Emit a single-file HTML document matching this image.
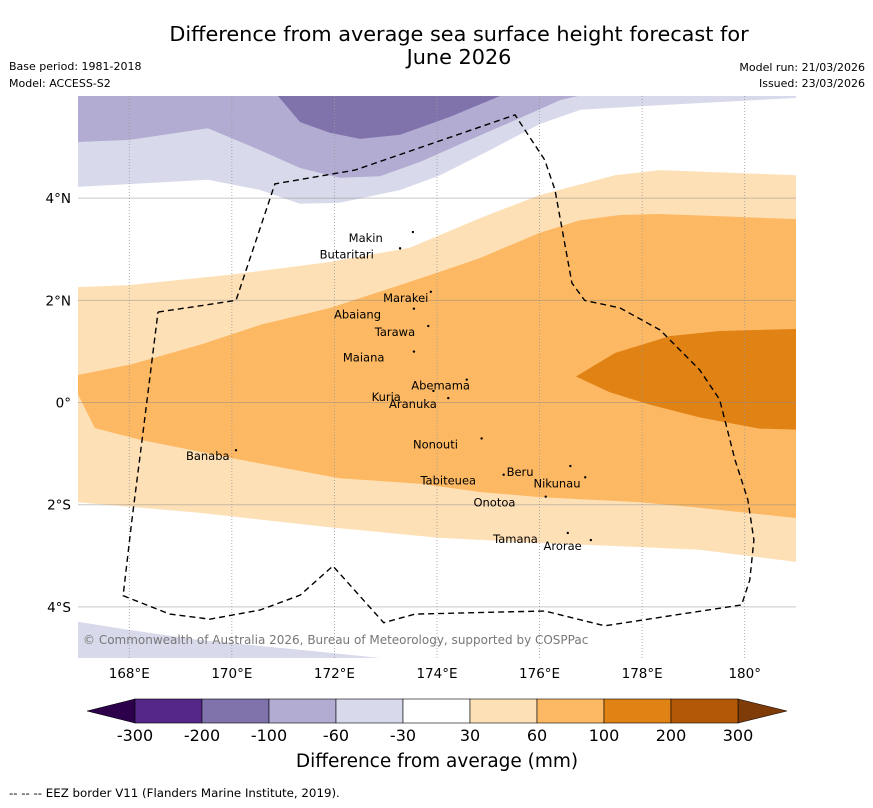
<!DOCTYPE html>
<html><head><meta charset="utf-8">
<style>
body{margin:0;background:#fff;width:873px;height:804px;overflow:hidden;font-family:"DejaVu Sans","Liberation Sans",sans-serif;}
svg text{font-family:"DejaVu Sans","Liberation Sans",sans-serif;}
</style></head>
<body>
<svg id="chart" width="873" height="804" xmlns="http://www.w3.org/2000/svg">
<text x="459" y="41" font-size="20.8" text-anchor="middle">Difference from average sea surface height forecast for</text>
<text x="459" y="64" font-size="20.8" text-anchor="middle">June 2026</text>
<text x="9" y="70" font-size="11">Base period: 1981-2018</text>
<text x="9" y="87" font-size="11">Model: ACCESS-S2</text>
<text x="865" y="71" font-size="11" text-anchor="end">Model run: 21/03/2026</text>
<text x="865" y="87" font-size="11" text-anchor="end">Issued: 23/03/2026</text>
<g id="map"></g>
<g id="cbar"></g>
<text x="437" y="767" font-size="18.5" text-anchor="middle">Difference from average (mm)</text>
<text x="9" y="797" font-size="11.8">--  --  -- EEZ border V11 (Flanders Marine Institute, 2019).</text>
</svg>
<script>
// ---- data ----
const lonTicks = [168,170,172,174,176,178,180];
const lonTickLabels = ["168°E","170°E","172°E","174°E","176°E","178°E","180°"];
const latTicks = [4,2,0,-2,-4];
const latTickLabels = ["4°N","2°N","0°","2°S","4°S"];
const levelLabels = ["-300","-200","-100","-60","-30","30","60","100","200","300"];
const levelColors = ["#542788","#8073ac","#b2abd2","#d8daeb","#ffffff","#fee0b6","#fdb863","#e08214","#b35806"];
const lowExtendColor = "#2d004b";
const highExtendColor = "#7f3b08";
const contourLightPurpleTop = [[167,6],[181,6],[181,5.96],[177.96,5.8],[176.8,5.73],[176.0,5.45],[175.03,4.94],[174.06,4.45],[173.28,4.16],[172.1,3.91],[171.33,3.89],[170.55,4.16],[169.53,4.36],[167,4.22]];
const contourMidPurple = [[167,6],[176.75,6],[176.4,5.92],[175.62,5.57],[174.64,5.14],[173.67,4.71],[172.89,4.43],[172.1,4.4],[171.33,4.59],[170.55,4.94],[169.53,5.37],[168.01,5.14],[167,5.1]];
const contourDarkPurple = [[170.9,6],[171.33,5.49],[171.91,5.28],[172.5,5.16],[173.28,5.24],[174.25,5.59],[175.23,6]];
const contourLightPurpleBottom = [[167,-4.29],[168.0,-4.45],[169.38,-4.65],[171.33,-4.84],[172.89,-5],[167,-5]];
const contourLightOrange = [[167,2.26],[168.01,2.3],[169.96,2.5],[171.91,2.75],[173.47,3.03],[174.84,3.61],[176.0,4.06],[177.47,4.45],[178.35,4.55],[181,4.45],[181,-3.12],[179.12,-2.88],[177.96,-2.83],[176,-2.75],[174.06,-2.65],[172.0,-2.45],[169.38,-2.16],[167,-1.95]];
const contourMidOrange = [[167,0.54],[168.01,0.74],[169.38,1.13],[170.55,1.52],[171.91,1.85],[173.28,2.3],[174.06,2.56],[174.84,2.83],[176,3.32],[176.79,3.57],[177.57,3.67],[178.35,3.69],[181,3.59],[181,-2.26],[179.12,-2.06],[177.96,-1.95],[176,-1.85],[174.84,-1.75],[173.67,-1.59],[172.1,-1.48],[170.16,-1.12],[168.21,-0.73],[167.33,-0.5],[167,0.16]];
const contourDarkOrange = [[176.71,0.51],[177.47,0.97],[178.54,1.3],[179.51,1.4],[181,1.44],[181,-0.53],[180.29,-0.51],[179.12,-0.29],[178.15,-0.04],[177.37,0.2]];
const eezBorder = [[168.56,1.77],[170.08,2.0],[170.84,4.28],[172.4,4.55],[175.52,5.63],[176.1,4.75],[176.3,4.16],[176.63,2.34],[176.88,2.0],[177.57,1.85],[178.35,1.42],[179.12,0.64],[179.51,0.06],[179.81,-1.12],[180.06,-1.9],[180.18,-2.69],[180.1,-3.47],[179.94,-3.96],[177.27,-4.37],[176.1,-4.08],[173.57,-4.14],[172.96,-4.31],[171.97,-3.2],[171.33,-3.77],[170.55,-4.06],[169.57,-4.24],[168.79,-4.14],[167.88,-3.78],[168.05,-2.3],[168.25,-0.73],[168.56,1.77]];
const islandNames = ["Makin","Butaritari","Marakei","Abaiang","Tarawa","Maiana","Abemama","Kuria","Aranuka","Nonouti","Banaba","Tabiteuea","Beru","Nikunau","Onotoa","Tamana","Arorae"];
const islandLon = [172.61,172.24,173.39,172.45,173.18,172.57,174.07,173.01,173.53,173.97,169.53,174.22,175.62,176.34,175.12,175.53,176.45];
const islandLat = [3.22,2.9,2.05,1.72,1.38,0.88,0.33,0.11,-0.03,-0.82,-1.05,-1.53,-1.36,-1.58,-1.96,-2.67,-2.81];
const markerLon = [173.53,173.28,173.88,173.55,173.83,173.55,174.58,173.93,174.22,174.87,170.08,175.3,176.6,176.89,176.12,176.55,177.0];

// ---- axes ----
const X0=78, X1=796, Y0=96, Y1=658, LON0=167, LON1=181, LAT0=6, LAT1=-5;
const lx = lon => X0 + (lon-LON0)/(LON1-LON0)*(X1-X0);
const ly = lat => Y0 + (LAT0-lat)/(LAT0-LAT1)*(Y1-Y0);
const NS="http://www.w3.org/2000/svg";
const map=document.getElementById('map');
function mk(tag,attrs,parent){const e=document.createElementNS(NS,tag);for(const k in attrs)e.setAttribute(k,attrs[k]);parent.appendChild(e);return e;}
const pts = arr => arr.map(p=>lx(p[0]).toFixed(1)+','+ly(p[1]).toFixed(1)).join(' ');

const layers=[[contourLightPurpleTop,levelColors[3],'contour-minus60-minus30-north'],[contourMidPurple,levelColors[2],'contour-minus100-minus60'],[contourDarkPurple,levelColors[1],'contour-minus200-minus100'],[contourLightPurpleBottom,levelColors[3],'contour-minus60-minus30-south'],[contourLightOrange,levelColors[5],'contour-30-60'],[contourMidOrange,levelColors[6],'contour-60-100'],[contourDarkOrange,levelColors[7],'contour-100-200']];
layers.forEach(l=>{
  const p=mk('polygon',{points:pts(l[0]),fill:l[1]},map);
  
  
});
lonTicks.forEach((v,i)=>{
  const g=mk('line',{x1:lx(v),x2:lx(v),y1:Y0,y2:Y1,stroke:'#999',"stroke-width":0.8,"stroke-dasharray":"1,2"},map);
  
  
  const t=mk('text',{x:lx(v),y:678,"font-size":13.5,"text-anchor":"middle"},map);
  t.textContent=lonTickLabels[i];
  
  
});
latTicks.forEach((v,i)=>{
  const g=mk('line',{x1:X0,x2:X1,y1:ly(v),y2:ly(v),stroke:'#888',"stroke-opacity":0.45,"stroke-width":1},map);
  
  
  const t=mk('text',{x:71,y:ly(v)+5,"font-size":13.5,"text-anchor":"end"},map);
  t.textContent=latTickLabels[i];
  
  
});
const eez=mk('polyline',{points:pts(eezBorder),fill:'none',stroke:'#000',"stroke-width":1.4,"stroke-dasharray":"6,4"},map);


islandNames.forEach((n,i)=>{
  const d=mk('circle',{cx:lx(markerLon[i]),cy:ly(islandLat[i])-6,r:1.2,fill:'#000'},map);
  
  
  const t=mk('text',{x:lx(islandLon[i]),y:ly(islandLat[i])+4,"font-size":11.5,"text-anchor":"middle"},map);
  t.textContent=n;
  
  
});
const cp=mk('text',{x:83,y:644,"font-size":12,fill:'#777'},map);
cp.textContent='© Commonwealth of Australia 2026, Bureau of Meteorology, supported by COSPPac';



const cb=document.getElementById('cbar');
const CB0=135, CB1=738, CBY=699, CBH=24;
const bw=(CB1-CB0)/levelColors.length;
const lt=mk('polygon',{points:`${CB0},${CBY} ${CB0},${CBY+CBH} 87,${CBY+CBH/2}`,fill:lowExtendColor,stroke:'#000',"stroke-width":0.6},cb);


const rt=mk('polygon',{points:`${CB1},${CBY} ${CB1},${CBY+CBH} 787,${CBY+CBH/2}`,fill:highExtendColor,stroke:'#000',"stroke-width":0.6},cb);


levelColors.forEach((c,i)=>{
  const r=mk('rect',{x:CB0+i*bw,y:CBY,width:bw,height:CBH,fill:c,stroke:'#000',"stroke-width":0.6},cb);
  
  
});
levelLabels.forEach((s,i)=>{
  const t=mk('text',{x:CB0+i*bw,y:741,"font-size":16,"text-anchor":"middle"},cb);
  t.textContent=s;
  
  
});
</script>
</body></html>
